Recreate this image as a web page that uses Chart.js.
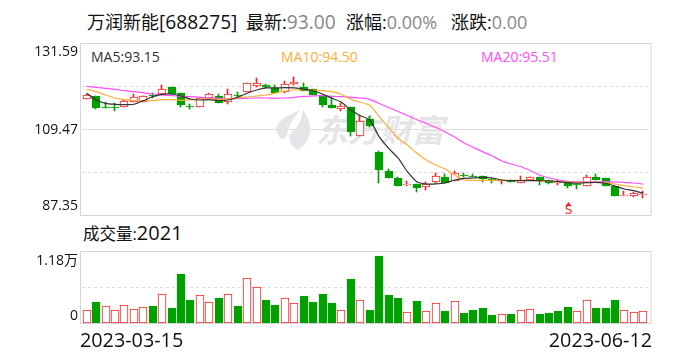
<!DOCTYPE html>
<html lang="zh">
<head>
<meta charset="utf-8">
<script src="https://cdn.jsdelivr.net/npm/chart.js@4"></script>
<style>
html,body{margin:0;padding:0;background:#fff;}
body{width:688px;height:360px;overflow:hidden;position:relative;font-family:"Open Sans","Noto Sans CJK SC",sans-serif;}
canvas{position:absolute;left:0;}
.t{position:absolute;white-space:nowrap;font-size:18px;line-height:24px;color:#111;top:10px;}
.g{color:#888;}
.b{font-size:19.2px;}
.m{position:absolute;white-space:nowrap;font-size:14px;line-height:18px;top:48px;}
</style>
</head>
<body>
<div class="t" style="left:87px">万润新能<span class="b">[688275]</span></div>
<div class="t" style="left:246px">最新:<span class="g b">93.00</span></div>
<div class="t" style="left:346px">涨幅:<span class="g">0.00%</span></div>
<div class="t" style="left:451px">涨跌:<span class="g">0.00</span></div>
<div class="m" style="left:91px;color:#333">MA5:93.15</div>
<div class="m" style="left:281px;color:#ffae33">MA10:94.50</div>
<div class="m" style="left:481px;color:#ff4dff">MA20:95.51</div>
<div class="t" style="left:83px;top:221px;font-size:16.5px">成交量:<span style="font-size:20px">2021</span></div>
<canvas id="price" width="688" height="240" style="top:0;width:688px;height:240px"></canvas>
<canvas id="vol" width="688" height="360" style="top:0;width:688px;height:360px"></canvas>
<script>
const dateLabels = ['2023-03-15','2023-06-12'];
const priceTicks = [87.35,109.47,131.59];
const volTicks = ['0','1.18万'];
const volMax = 11800;
const opens = [117.35,118.04,115.23,115.3,115.15,116.43,116.43,118.35,118.55,120.34,118.8,115.56,115.15,117.45,118.04,116.43,118.35,118.98,120.67,120.93,120.09,118.98,121.18,120.26,119.75,118.29,115.74,114.79,115.23,107.89,112.15,103.8,98.86,96.99,95.4,95.54,94.69,96.12,97.33,96.23,97.95,97.7,97.5,96.9,96.3,96.56,95.87,96.56,97.25,96.56,95.8,95.97,95.42,95.1,97.25,97.07,95.1,92.54,92.54,92.95];
const closes = [118.29,115.05,115.05,115.15,116.84,117.71,118.11,118.2,119.75,118.55,115.81,115.15,117.6,118.47,116.33,118.47,118.2,121.29,121.44,120.41,118.88,121.03,121.62,119.39,118.29,115.74,115.05,115.48,108.91,111.64,110.37,99.12,97.15,95.03,95.5,94.59,95.46,97.5,95.87,98.42,97.85,97.6,96.74,96.6,96.45,96.12,96.56,97.25,96.56,95.87,95.95,95.1,95.3,97.25,96.56,95.1,92.54,92.72,93.16,93.0];
const highs = [118.5,118.1,116.43,116.17,117.0,118.47,118.11,118.88,120.85,120.34,118.8,115.92,117.6,118.73,118.47,119.75,118.98,121.29,122.56,121.0,120.85,121.87,122.82,121.29,119.75,118.29,118.04,116.17,115.23,113.18,112.8,104.0,99.3,97.2,96.3,95.54,95.97,98.27,98.09,98.86,98.35,98.15,97.5,97.0,96.5,96.6,97.58,97.25,97.25,96.56,96.56,95.97,95.97,97.84,98.09,97.07,95.1,93.82,93.41,93.82];
const lows = [117.3,114.79,115.05,114.28,115.15,116.43,116.43,117.53,118.55,118.55,115.15,114.71,115.15,117.45,116.17,116.0,117.6,118.98,120.41,120.2,118.88,118.73,120.85,119.39,118.29,115.15,115.05,114.28,107.89,107.89,110.2,95.87,97.15,95.03,95.03,93.57,94.0,95.72,95.87,96.23,97.4,97.25,95.97,95.87,95.62,96.0,95.87,96.56,95.28,95.54,95.36,94.6,94.26,95.1,96.56,95.1,92.54,92.54,92.29,92.03];
const ma5 = [118.73,117.01,116.17,115.92,115.81,115.92,116.84,117.86,118.47,118.55,118.04,117.27,117.01,117.09,116.84,117.01,117.71,118.73,119.57,120.09,120.09,120.16,120.09,119.75,119.39,118.55,117.45,116.43,114.46,113.0,111.9,107.63,104.66,102.19,98.68,96.12,95.54,95.54,95.79,96.56,96.99,97.07,97.25,97.07,96.56,96.38,96.38,96.38,96.38,96.3,96.12,95.87,95.72,95.87,95.97,95.72,95.03,94.26,93.82,93.15];
const ma10 = [119.75,119.14,118.29,117.53,117.09,116.84,116.84,116.94,117.09,117.09,116.94,117.09,117.27,117.27,117.19,117.35,117.53,117.78,118.04,118.29,118.8,119.32,119.57,119.57,119.57,119.39,119.14,118.47,117.19,116.43,115.66,112.74,110.03,107.22,105.51,103.38,101.67,100.39,99.37,97.84,96.56,96.48,96.48,96.48,96.48,96.48,96.48,96.48,96.38,96.3,96.12,96.05,95.97,95.97,95.97,95.87,95.54,95.1,94.77,94.5];
const ma20 = [120.52,120.26,120.0,119.75,119.39,119.14,118.88,118.55,118.29,118.11,117.96,117.86,117.71,117.53,117.45,117.35,117.35,117.45,117.53,117.53,117.45,117.53,117.71,117.96,118.04,118.11,117.96,117.86,117.71,117.53,117.19,116.12,115.1,114.07,113.05,111.98,111.01,109.98,108.83,107.55,106.02,104.9,103.74,102.7,101.42,100.65,100.01,98.99,97.84,97.07,96.56,96.23,96.12,96.05,96.05,96.12,96.05,95.92,95.79,95.51];
const volumes = [2075,3440,2730,2075,2895,2240,2565,2785,4695,2455,8025,3770,4530,3385,4095,4695,2785,7315,5840,3770,2950,4040,3220,4420,3440,4750,3275,2075,7205,3715,2130,10975,4585,4095,1745,3600,1910,3220,1965,3550,1640,2130,2455,1310,1420,1475,2075,2240,1475,1640,1965,2620,1910,3715,2455,2455,3770,2075,1745,2021];
const volUp = [1,0,1,1,1,1,1,0,1,0,0,0,1,1,0,1,0,1,1,0,0,1,1,0,0,0,0,1,0,1,0,0,0,0,1,0,1,1,0,1,0,0,0,0,1,0,1,1,0,0,0,0,1,1,0,0,0,1,1,1];
const signalIndex = 51;
const signalText = 'S';
const watermark = '东方财富';
const RED='#f22424', GREEN='#00a000', FRAME='#d4d4da', GRID='#dcdcdf', FONT='"Open Sans","Noto Sans CJK SC",sans-serif';
const cats = opens.map((_,i)=> i===0?dateLabels[0]:(i===opens.length-1?dateLabels[1]:''));

// keep the bars on whole pixels
const snap = {id:'snap',afterDatasetsUpdate(c){
  c.data.datasets.forEach((d,di)=>{
    if(d.type==='line')return;
    c.getDatasetMeta(di).data.forEach(el=>{
      const thin=d.barThickness===1;
      el.x = thin ? Math.round(el.x)-0.5 : Math.round(el.x);
      let t=Math.round(el.y), b=Math.round(el.base);
      if(Math.abs(b-t)<1) b=t+1;
      el.y=t; el.base=b; el.height=b-t;
    });
  });
}};
function frame(ctx,top,bottom){
  ctx.save();ctx.strokeStyle=FRAME;ctx.lineWidth=1;
  ctx.strokeRect(80.5,top+0.5,570.5,bottom-top);
  ctx.restore();
}
function label(ctx,t,y){
  ctx.save();ctx.fillStyle='#111';ctx.font='14px '+FONT;ctx.textAlign='right';ctx.textBaseline='middle';
  ctx.fillText(t,78,y);ctx.restore();
}
const pricePaper = {id:'paper',
 beforeDatasetsDraw(c){
  const ctx=c.ctx;
  ctx.save();
  ctx.fillStyle='#e4e4e9';
  ctx.font='italic bold 32px "Noto Sans CJK SC"';
  ctx.textBaseline='middle';ctx.textAlign='left';
  ctx.fillText(watermark,316,130);
  ctx.beginPath();ctx.moveTo(300,110);ctx.bezierCurveTo(286,116,276,122,276,130);ctx.bezierCurveTo(278,138,284,143,287,135);ctx.bezierCurveTo(288,126,294,118,300,110);ctx.fill();
  ctx.beginPath();ctx.moveTo(303,110);ctx.bezierCurveTo(314,124,312,142,298,150);ctx.bezierCurveTo(291,146,288,140,290,134);ctx.bezierCurveTo(297,128,302,120,303,110);ctx.fill();
  ctx.restore();
 },
 afterDraw(c){
  const ctx=c.ctx,y=c.scales.y;
  frame(ctx,43,215);
  label(ctx,priceTicks[2].toFixed(2),y.getPixelForValue(priceTicks[2])+9);
  label(ctx,priceTicks[1].toFixed(2),y.getPixelForValue(priceTicks[1])+1);
  label(ctx,priceTicks[0].toFixed(2),y.getPixelForValue(priceTicks[0])-10);
  const sx=Math.round(c.scales.x.getPixelForValue(signalIndex))+0.5;
  ctx.save();ctx.fillStyle=RED;
  ctx.beginPath();ctx.moveTo(sx,202);ctx.lineTo(sx+3,206);ctx.lineTo(sx-3,206);ctx.closePath();ctx.fill();
  ctx.font='12px "DejaVu Sans"';ctx.textAlign='center';ctx.textBaseline='middle';
  ctx.fillText(signalText,sx,211);
  ctx.restore();
 }};
const volPaper = {id:'paper2',afterDraw(c){
  const ctx=c.ctx,y=c.scales.y;
  frame(ctx,251,323);
  label(ctx,volTicks[1],y.getPixelForValue(volMax)+10);
  label(ctx,volTicks[0],y.getPixelForValue(0)-7);
  ctx.save();ctx.fillStyle='#111';ctx.font='19.8px '+FONT;ctx.textBaseline='middle';
  ctx.textAlign='left';ctx.fillText(dateLabels[0],80,341);
  ctx.textAlign='right';ctx.fillText(dateLabels[1],652,341);
  ctx.restore();
}};
const candleUp=i=>closes[i]>=opens[i];
const line=(label,data,color)=>({type:'line',label,data,borderColor:color,borderWidth:1.2,pointRadius:0,tension:0.25,order:1,fill:false});
new Chart(document.getElementById('price'),{
 data:{labels:cats,datasets:[
  {type:'bar',label:'影线',data:lows.map((l,i)=>[l,highs[i]]),barThickness:1,grouped:false,order:3,
   backgroundColor:opens.map((_,i)=>candleUp(i)?RED:GREEN)},
  {type:'bar',label:'K线',data:opens.map((o,i)=>[Math.min(o,closes[i]),Math.max(o,closes[i])]),barThickness:8,grouped:false,order:2,
   backgroundColor:opens.map((_,i)=>candleUp(i)?'#fff':GREEN),
   borderColor:opens.map((_,i)=>candleUp(i)?RED:GREEN),borderWidth:1,borderSkipped:false},
  line('MA5',ma5,'#333333'),line('MA10',ma10,'#ffae33'),line('MA20',ma20,'#ff4dff')
 ]},
 options:{responsive:false,animation:false,events:[],
  layout:{padding:{left:82,right:40,top:43,bottom:24}},
  plugins:{legend:{display:false},tooltip:{enabled:false}},
  scales:{
   x:{display:false,offset:true,grid:{display:false}},
   y:{min:87.35,max:131.59,position:'left',
      border:{display:false,dash:c=>c.tick&&c.tick.value===109.47?[]:[3,3]},
      afterBuildTicks(a){a.ticks=[98.41,109.47,120.53].map(v=>({value:v}));},
      ticks:{display:false},
      grid:{drawTicks:false,color:GRID,lineWidth:1}}
  }
 },
 plugins:[snap,pricePaper]
});
new Chart(document.getElementById('vol'),{
 data:{labels:cats,datasets:[
  {type:'bar',label:'成交量',data:volumes,barThickness:8,
   backgroundColor:volUp.map(u=>u?'#fff':GREEN),
   borderColor:volUp.map(u=>u?RED:GREEN),borderWidth:1,borderSkipped:false}
 ]},
 options:{responsive:false,animation:false,events:[],
  layout:{padding:{left:82,right:40,top:251,bottom:37}},
  plugins:{legend:{display:false},tooltip:{enabled:false}},
  scales:{
   x:{display:false,offset:true,grid:{display:false}},
   y:{min:0,max:volMax,border:{display:false,dash:[3,3]},
      afterBuildTicks(a){a.ticks=[volMax/2].map(v=>({value:v}));},
      ticks:{display:false},
      grid:{drawTicks:false,color:GRID,lineWidth:1}}
  }
 },
 plugins:[snap,volPaper]
});
</script>
</body>
</html>
